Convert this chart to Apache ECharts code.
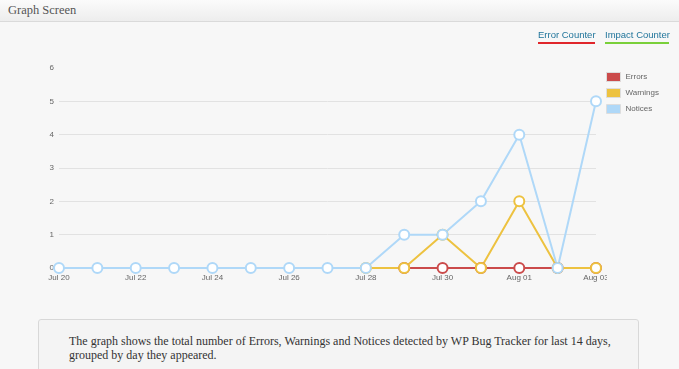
<!DOCTYPE html>
<html><head><meta charset="utf-8">
<script src="https://cdn.jsdelivr.net/npm/echarts@6/dist/echarts.min.js"></script>
<style>
html,body{margin:0;padding:0;width:679px;height:369px;overflow:hidden;background:#f7f7f7;}
#hdr{position:absolute;left:0;top:0;width:679px;height:21px;background:linear-gradient(#fbfbfb,#ededed);border-bottom:1px solid #dadada;}
#hdr span{position:absolute;left:8px;top:3px;font-family:"Liberation Serif",serif;font-size:12.5px;color:#555;}
#links{position:absolute;top:29px;font-family:"Liberation Sans",Arial,sans-serif;font-size:9.5px;color:#21759b;}
.lk{position:absolute;top:0;white-space:nowrap;padding-bottom:2px;}
#chart{position:absolute;left:0;top:0;width:679px;height:369px;}
#note{position:absolute;left:38px;top:319px;width:599px;height:60px;border:1px solid #d8d8d8;border-radius:3px;background:#f4f4f4;}
#note p{margin:0;position:absolute;left:30px;top:14px;width:560px;font-family:"Liberation Serif",serif;font-size:12px;line-height:14px;color:#333;}
</style></head>
<body>
<div id="hdr"><span>Graph Screen</span></div>
<div id="chart"></div>
<div id="links">
<div class="lk" style="left:538px;width:57px;border-bottom:2px solid #e0262b;">Error Counter</div>
<div class="lk" style="left:605px;width:64px;border-bottom:2px solid #7ad03a;">Impact Counter</div>
</div>
<div id="note"><p>The graph shows the total number of Errors, Warnings and Notices detected by WP Bug Tracker for last 14 days, grouped by day they appeared.</p></div>
<script>
const categories = ['Jul 20','Jul 21','Jul 22','Jul 23','Jul 24','Jul 25','Jul 26','Jul 27','Jul 28','Jul 29','Jul 30','Jul 31','Aug 01','Aug 02','Aug 03'];
const errors   = [null,null,null,null,null,null,null,null,null,0,0,0,0,0,0];
const warnings = [null,null,null,null,null,null,null,null,0,0,1,0,2,0,0];
const notices  = [0,0,0,0,0,0,0,0,0,1,1,2,4,0,5];
const yTicks = [0,1,2,3,4,5,6];

const chart = echarts.init(document.getElementById('chart'));
function mk(name, data, color){
  return {name, type:'line', data, connectNulls:false,
    symbol:'circle', symbolSize:10,
    lineStyle:{width:2,color},
    itemStyle:{color:'#ffffff',borderColor:color,borderWidth:2},
    emphasis:{disabled:true}, animation:false};
}
chart.setOption({
  animation:false,
  grid:{left:59,right:83,top:68,bottom:101,containLabel:false},
  legend:{orient:'vertical',left:601,top:67,icon:'rect',itemWidth:14,itemHeight:9,itemGap:6,
    textStyle:{fontSize:8,color:'#666',fontFamily:'Liberation Sans'},
    data:[{name:'Errors',itemStyle:{color:'#cb4b4b',borderColor:'#ddd',borderWidth:1}},
          {name:'Warnings',itemStyle:{color:'#edc240',borderColor:'#ddd',borderWidth:1}},
          {name:'Notices',itemStyle:{color:'#afd8f8',borderColor:'#ddd',borderWidth:1}}],
    selectedMode:false},
  xAxis:{type:'category',data:categories,boundaryGap:false,
    axisLine:{show:false},axisTick:{show:false},splitLine:{show:false},
    axisLabel:{interval:1,fontSize:8,color:'#666',margin:6,fontFamily:'Liberation Sans'}},
  yAxis:{type:'value',min:yTicks[0],max:yTicks[yTicks.length-1],interval:1,
    axisLine:{show:false},axisTick:{show:false},
    axisLabel:{fontSize:8,color:'#666',margin:5,fontFamily:'Liberation Sans'},
    splitLine:{lineStyle:{color:['#e2e2e2','#e2e2e2','#e2e2e2','#e2e2e2','#e2e2e2','#e2e2e2','rgba(0,0,0,0)'],width:1}}},
  series:[mk('Errors',errors,'#cb4b4b'),mk('Warnings',warnings,'#edc240'),mk('Notices',notices,'#afd8f8')],
  graphic:[{type:'rect',shape:{x:607,y:272,width:20,height:12},style:{fill:'#f7f7f7'},z:100}]
});
</script>
</body></html>
